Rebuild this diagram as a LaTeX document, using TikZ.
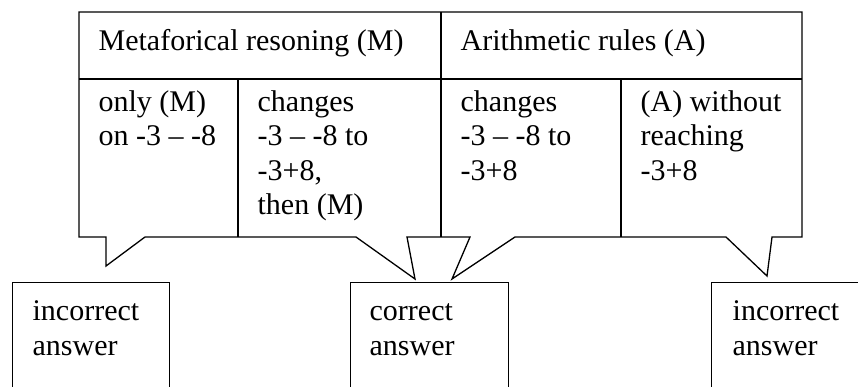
\documentclass[tikz,border=0pt]{standalone}
\usepackage{fontspec}
\setmainfont{Liberation Serif}
\tikzset{
  celltext/.style={anchor=base west, inner sep=0pt, align=left, font=\fontsize{30}{34.5}\selectfont},
  answerbox/.style={draw, anchor=north west, minimum width=157pt, minimum height=140pt, inner sep=0pt},
}
\begin{document}
\begin{tikzpicture}[x=1pt, y=-1pt, line width=1.3pt, line join=miter]
  \useasboundingbox (0,0) rectangle (858,386);
  \clip (0,0) rectangle (858,386);
  % callouts with their pointers
  \draw (79,12) -- (79,237) -- (106,237) -- (106,266) -- (145,237) -- (356,237) -- (415,279) -- (407,237)
    -- (470,237) -- (452,279) -- (515,237) -- (726,237) -- (767,276) -- (772,237) -- (802,237) -- (802,12) -- cycle;
  \draw (79,79) -- (802,79);
  \draw (441,12) -- (441,237);
  \draw (238,79) -- (238,237);
  \draw (621,79) -- (621,237);
  % cell texts (base = baseline of the last line)
  \node[celltext] (metaf) at (98,50) {Metaforical resoning (M)};
  \node[celltext] (arith) at (460,50) {Arithmetic rules (A)};
  \node[celltext] (onlym) at (98,145.5) {only (M)\\on -3 -- -8};
  \node[celltext] (chgm) at (257,214.5) {changes\\-3 -- -8 to\\-3+8,\\then (M)};
  \node[celltext] (chga) at (460,180) {changes\\-3 -- -8 to\\-3+8};
  \node[celltext] (woa) at (640,180) {(A) without\\reaching\\-3+8};
  % answers
  \node[answerbox] (ansL) at (12,282) {};
  \node[answerbox, minimum width=158pt] (ansC) at (350,282) {};
  \node[answerbox, minimum width=170pt] (ansR) at (711,282) {};
  \node[celltext] (txtL) at ([shift={(20,73)}]ansL.north west) {incorrect\\answer};
  \node[celltext] (txtC) at ([shift={(19,73)}]ansC.north west) {correct\\answer};
  \node[celltext] (txtR) at ([shift={(21,73)}]ansR.north west) {incorrect\\answer};
\end{tikzpicture}
\end{document}
